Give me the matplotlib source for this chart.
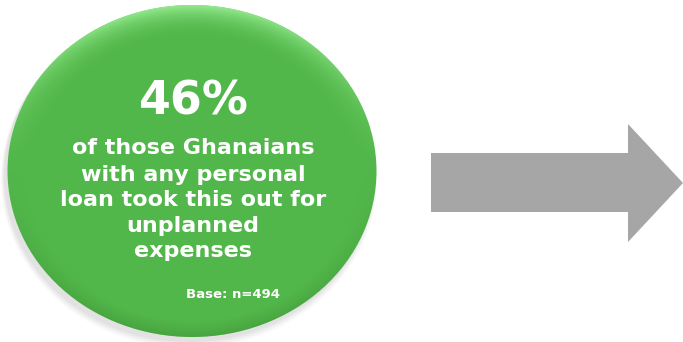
import numpy as np
import matplotlib
matplotlib.use("Agg")
import matplotlib.pyplot as plt
from matplotlib.patches import Ellipse, Polygon

# Headline figure and supporting text
share_pct = 46
base_n = 494
caption_lines = [
    "of those Ghanaians",
    "with any personal",
    "loan took this out for",
    "unplanned",
    "expenses",
]

W, H = 683, 342
fig = plt.figure(figsize=(W / 100, H / 100), dpi=100)
ax = fig.add_axes([0, 0, 1, 1])
ax.set_xlim(0, W)
ax.set_ylim(H, 0)
ax.axis("off")

GREEN = "#52b74a"
FONT = ["DejaVu Sans"]

# soft shadow under the disc
for i, a in enumerate([0.05, 0.05, 0.04, 0.03]):
    ax.add_patch(Ellipse((190 - 1, 174 + 2 + i), 370 + 2 * i, 332 + 2 * i,
                         facecolor="#555555", edgecolor="none", alpha=a, zorder=1))

# green disc
cx, cy, ew, eh = 192, 171, 369, 332
disc = Ellipse((cx, cy), ew, eh, facecolor=GREEN, edgecolor="none", zorder=2)
ax.add_patch(disc)

# glossy highlight near the top rim
yy, xx = np.mgrid[0:H, 0:W]
nx = (xx - cx) / (ew / 2)
ny = (yy - cy) / (eh / 2)
r = np.sqrt(nx ** 2 + ny ** 2)
rim = np.clip((r - 0.80) / 0.20, 0, 1) ** 2
top = np.clip(-ny, 0, 1) ** 1.5
glow = rim * top
rgba = np.zeros((H, W, 4))
rgba[..., 0] = 0.62
rgba[..., 1] = 0.95
rgba[..., 2] = 0.60
rgba[..., 3] = glow * 0.85
im = ax.imshow(rgba, extent=(0, W, H, 0), zorder=3, interpolation="bilinear")
im.set_clip_path(disc)

# darker lower rim
dark = np.clip((r - 0.90) / 0.10, 0, 1) * np.clip(ny, 0, 1)
rgba2 = np.zeros((H, W, 4))
rgba2[..., 0] = 0.20
rgba2[..., 1] = 0.50
rgba2[..., 2] = 0.18
rgba2[..., 3] = dark * 0.35
im2 = ax.imshow(rgba2, extent=(0, W, H, 0), zorder=3, interpolation="bilinear")
im2.set_clip_path(disc)

# headline percentage
ax.text(194, 102, f"{share_pct}%", color="white", fontsize=33, fontweight="bold",
        family=FONT, ha="center", va="center", zorder=5)

# caption
line_y = [148, 175, 200, 226, 251]
for s, y in zip(caption_lines, line_y):
    ax.text(193, y, s, color="white", fontsize=16, fontweight="bold",
            family=FONT, ha="center", va="center", zorder=5)

ax.text(233, 295, f"Base: n={base_n}", color="white", fontsize=9.5, fontweight="bold",
        family=FONT, ha="center", va="center", zorder=5)

# grey arrow pointing right
arrow = Polygon([(431, 153), (628, 153), (628, 124), (683, 183),
                 (628, 242), (628, 212), (431, 212)],
                closed=True, facecolor="#a6a6a6", edgecolor="none", zorder=2)
ax.add_patch(arrow)

fig.savefig("out.png", dpi=100, facecolor="white")
